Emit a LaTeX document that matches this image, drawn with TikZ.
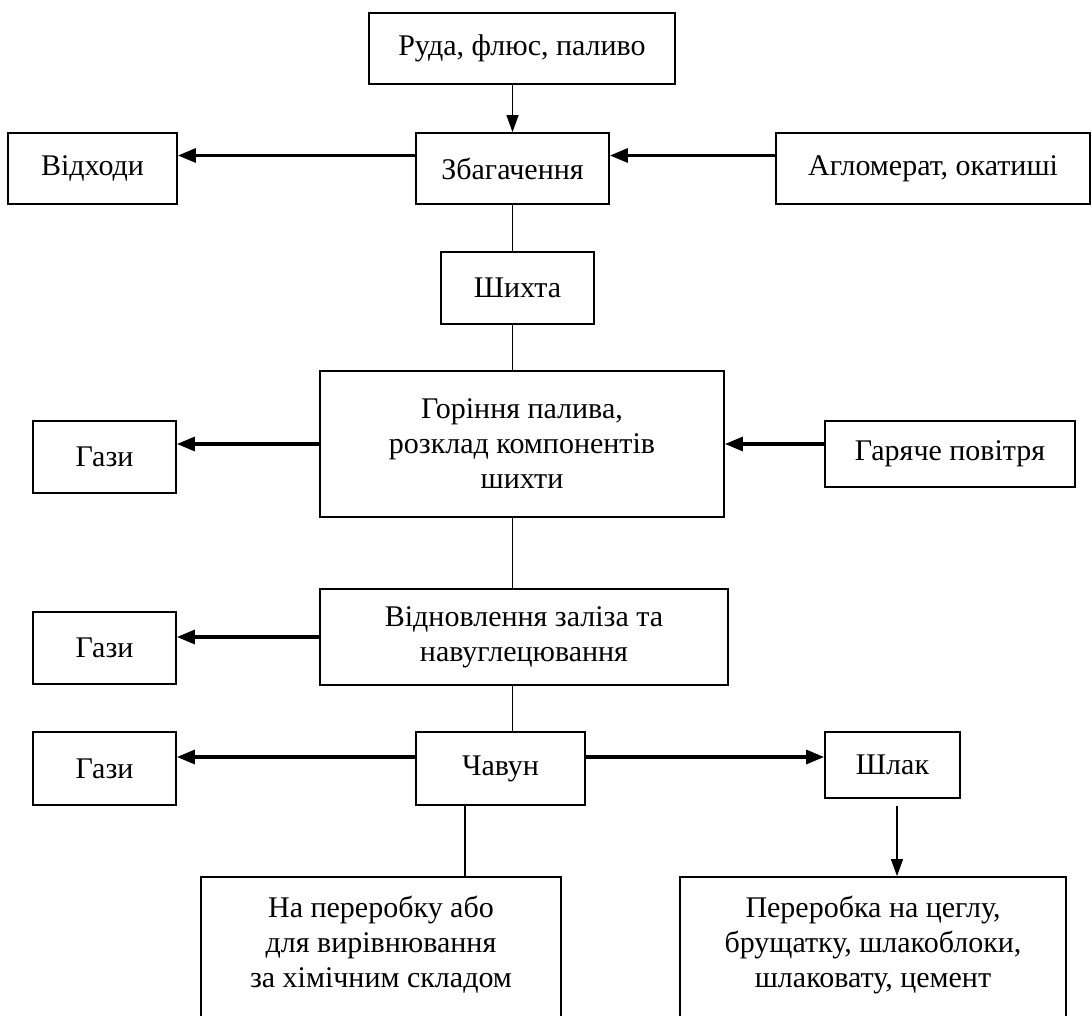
\documentclass[tikz,border=0pt]{standalone}
\usepackage{fontspec}
\setmainfont{Liberation Serif}
\usetikzlibrary{arrows.meta, calc}

\begin{document}
\begin{tikzpicture}[x=1pt, y=-1pt,
  box/.style={draw, line width=1.8pt, inner sep=0pt, align=center, font=\fontsize{30pt}{35pt}\selectfont},
  vline/.style={line width=1.4pt},
  harr/.style={line width=3.2pt, -{Triangle[length=18pt, width=14pt]}},
  varr/.style={line width=1.4pt, -{Triangle[length=17pt, width=12pt]}}]

  \clip (0,0) rectangle (1092,1016);

  \node[box, minimum width=306pt, minimum height=71pt] (ruda) at (522,48.5) {Руда, флюс, паливо};
  \node[box, minimum width=193pt, minimum height=71pt] (zbag) at (512.5,168.5) {Збагачення};
  \node[box, minimum width=169pt, minimum height=71pt] (vidh) at (92.5,168.5) {Відходи};
  \node[box, minimum width=314pt, minimum height=71pt] (aglo) at (933,168.5) {Агломерат, окатиші};
  \node[box, minimum width=153pt, minimum height=72pt] (shyhta) at (517.5,288) {Шихта};
  \node[box, minimum width=404pt, minimum height=146pt] (gorin) at (522,444) {Горіння палива,\\ розклад компонентів\\ шихти};
  \node[box, minimum width=143pt, minimum height=72pt] (gazy1) at (104.5,457) {Гази};
  \node[box, minimum width=250pt, minimum height=66pt] (povitr) at (950,454) {Гаряче повітря};
  \node[box, minimum width=408pt, minimum height=96pt] (vidnov) at (524,637) {Відновлення заліза та\\ навуглецювання};
  \node[box, minimum width=143pt, minimum height=72pt] (gazy2) at (104.5,648) {Гази};
  \node[box, minimum width=143pt, minimum height=73pt] (gazy3) at (104.5,768.5) {Гази};
  \node[box, minimum width=169pt, minimum height=73pt] (chavun) at (500.5,768.5) {Чавун};
  \node[box, minimum width=135pt, minimum height=66pt] (shlak) at (892.5,765) {Шлак};
  \node[box, minimum width=360pt, minimum height=176pt] (pererob) at (381,965) {На переробку або\\ для вирівнювання\\ за хімічним складом\\ \strut};
  \node[box, minimum width=386pt, minimum height=176pt] (shlakpr) at (873,965) {Переробка на цеглу,\\ брущатку, шлакоблоки,\\ шлаковату, цемент\\ \strut};

  \draw[varr] (zbag.north |- ruda.south) -- (zbag.north);
  \draw[harr] ([yshift=13pt]zbag.west) coordinate (z1) -- (z1 -| vidh.east);
  \draw[harr] ([yshift=13pt]zbag.east -| aglo.west) coordinate (z2) -- (z2 -| zbag.east);

  \draw[vline] (zbag.south) -- (zbag.south |- shyhta.north);
  \draw[vline] (zbag.south |- shyhta.south) -- (zbag.south |- gorin.north);
  \draw[vline] (zbag.south |- gorin.south) -- (zbag.south |- vidnov.north);
  \draw[vline] (zbag.south |- vidnov.south) -- (zbag.south |- chavun.north);

  \draw[harr] (gorin.west) -- (gorin.west -| gazy1.east);
  \draw[harr] (gorin.east -| povitr.west) -- (gorin.east);
  \draw[harr] (vidnov.west) -- (vidnov.west -| gazy2.east);

  \draw[harr] ([yshift=11.5pt]chavun.west) coordinate (c1) -- (c1 -| gazy3.east);
  \draw[harr] ([yshift=11.5pt]chavun.east) coordinate (c2) -- (c2 -| shlak.west);
  \draw[vline] ([xshift=-35.5pt]chavun.south) coordinate (c3) -- (c3 |- pererob.north);
  \draw[varr] ([xshift=4.5pt, yshift=-7pt]shlak.south) coordinate (c4) -- (c4 |- shlakpr.north);

\end{tikzpicture}
\end{document}
